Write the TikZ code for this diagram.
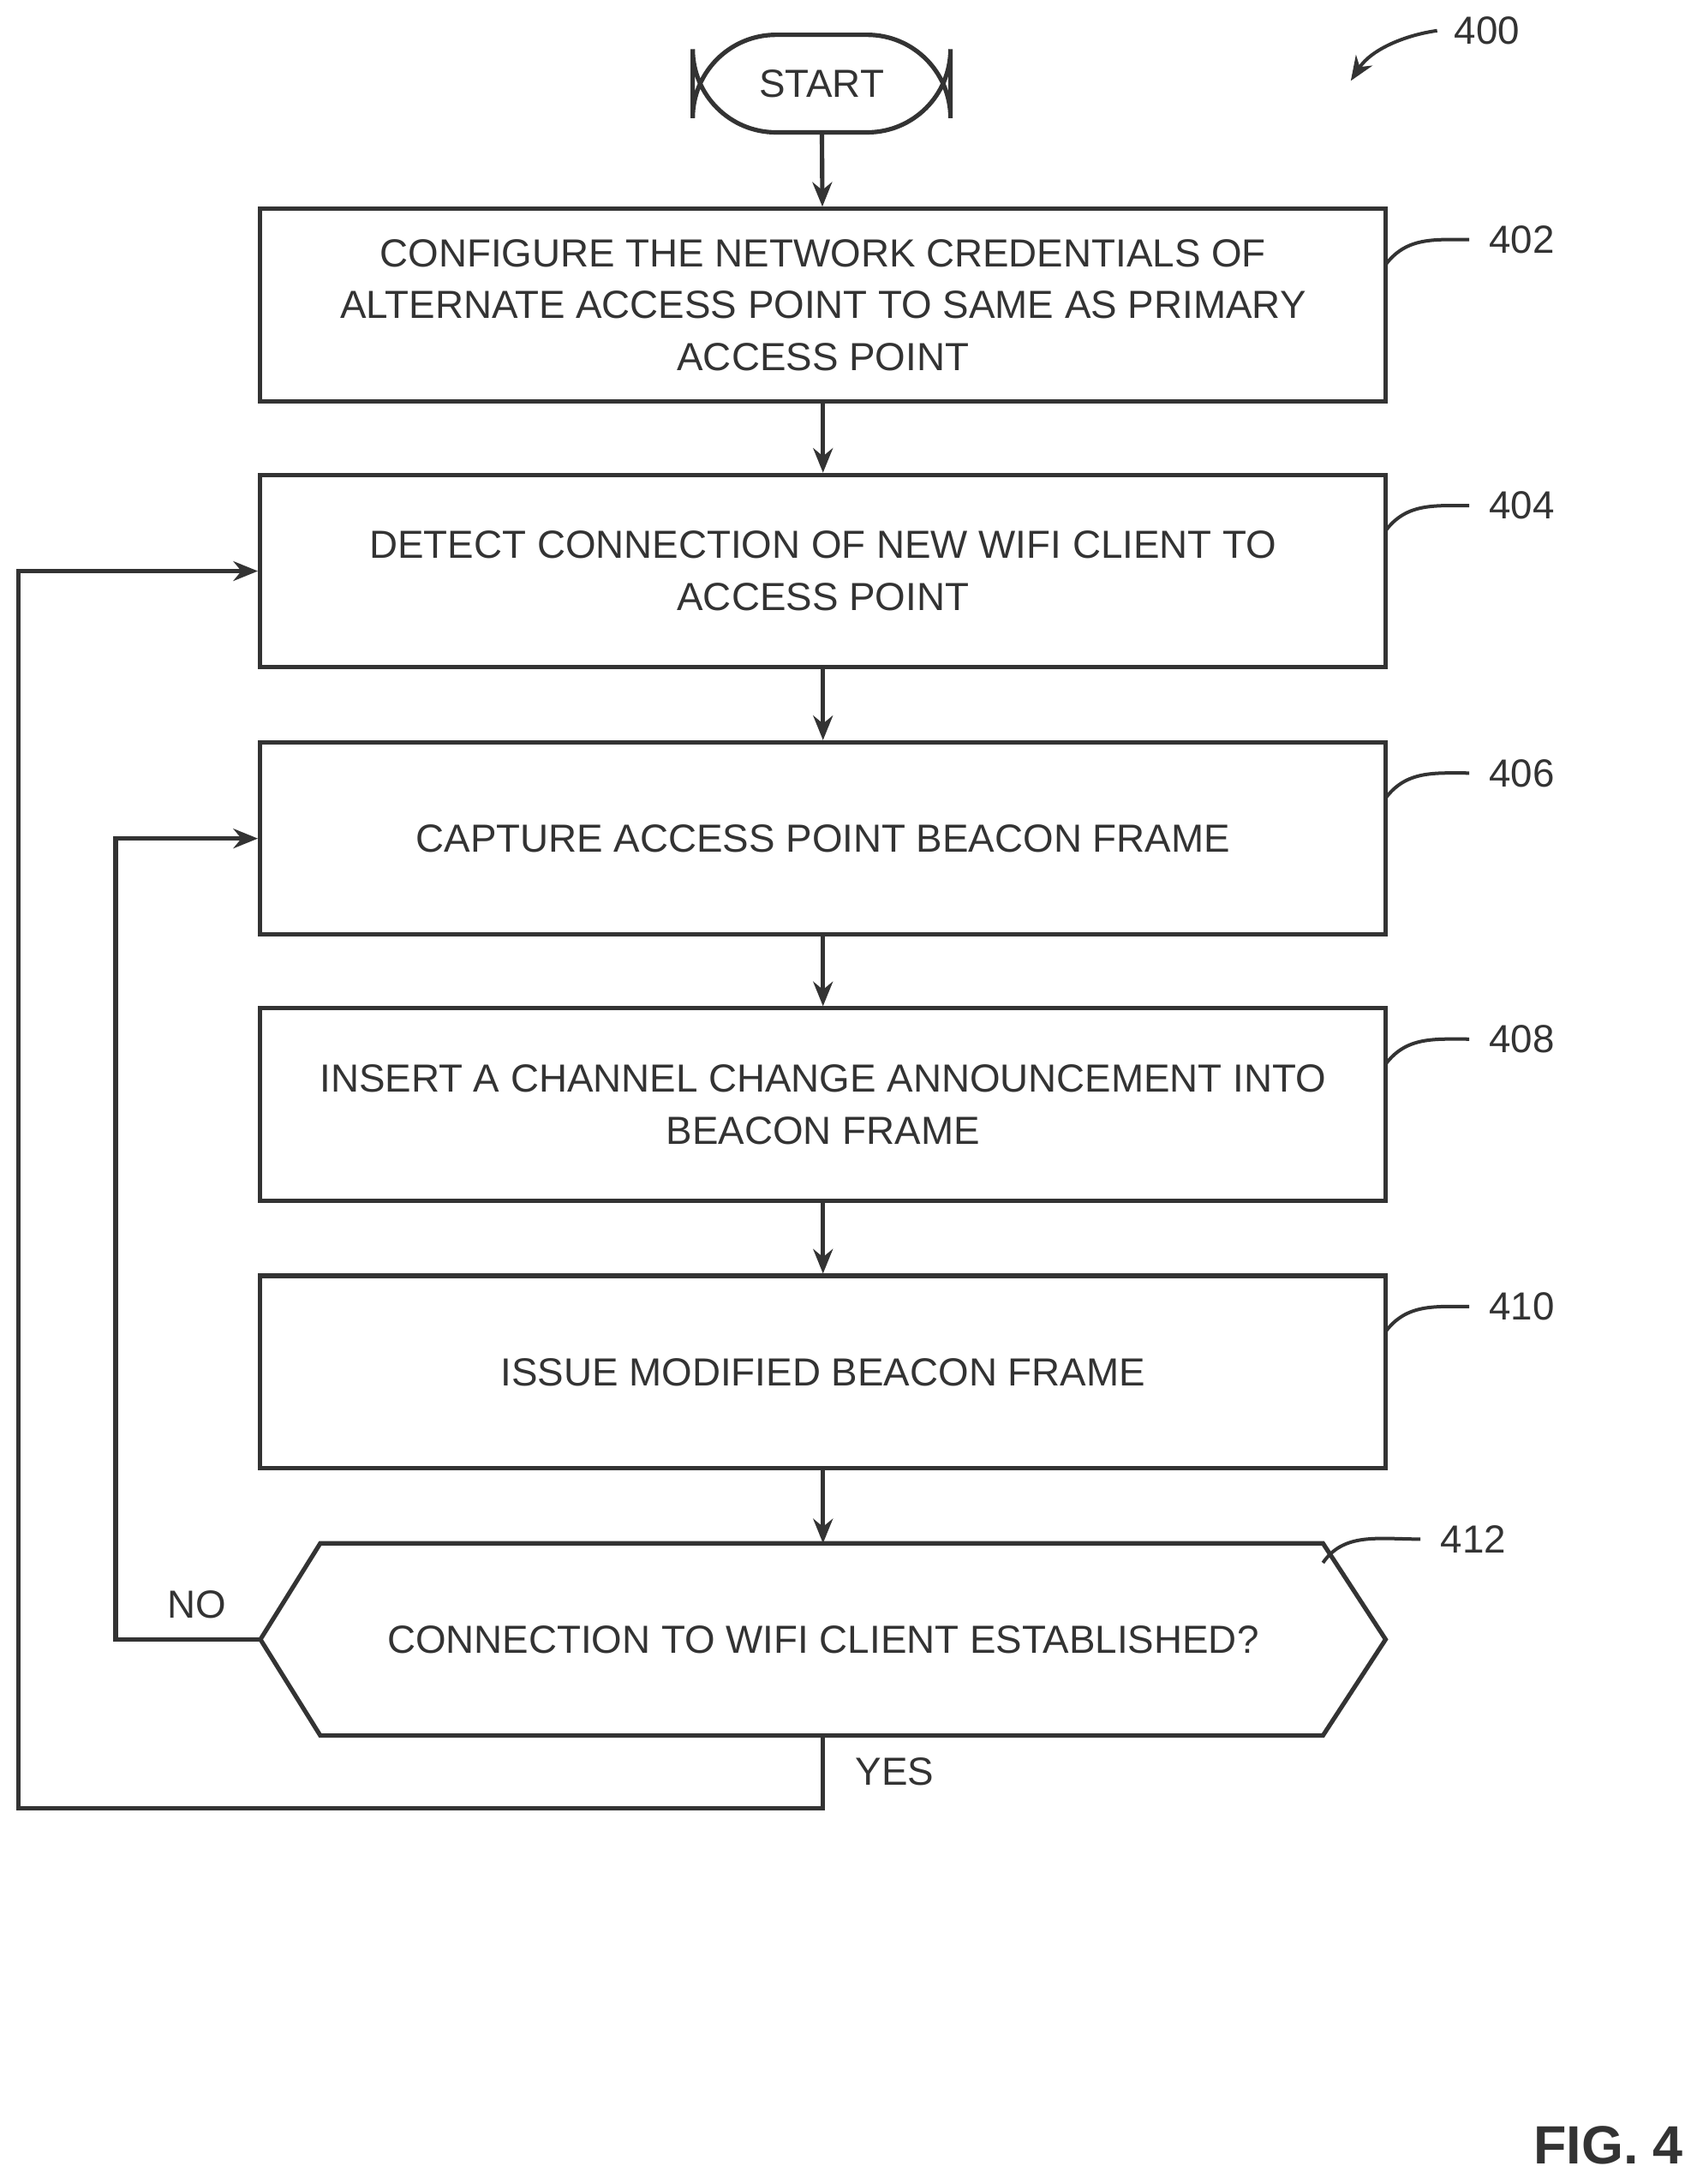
\documentclass[tikz,border=0pt]{standalone}
\usepackage{fontspec}
\setmainfont{Liberation Sans}
\usetikzlibrary{arrows.meta}
\begin{document}
\begin{tikzpicture}[x=0.01cm,y=-0.01cm,
  ln/.style={draw=black!80,line width=0.9pt},
  box/.style={ln,minimum width=808\pgflinewidth,align=center,inner sep=0pt},
  txt/.style={font=\fontsize{8}{10.6}\selectfont,text=black!80,align=center},
  arr/.style={ln,-{Stealth[length=5pt,width=4pt]}},
  lead/.style={ln,line width=0.7pt}]
\useasboundingbox (0,0) rectangle (1210,1568);
\node[ln,rounded corners=17pt,minimum width=1.85cm,minimum height=0.7cm,txt] (start) at (590,60) {START};
\foreach \n/\y/\t in {402/219/{CONFIGURE THE NETWORK CREDENTIALS OF\\ALTERNATE ACCESS POINT TO SAME AS PRIMARY\\ACCESS POINT},
  404/410/{DETECT CONNECTION OF NEW WIFI CLIENT TO\\ACCESS POINT},
  406/602/{CAPTURE ACCESS POINT BEACON FRAME},
  408/793/{INSERT A CHANNEL CHANGE ANNOUNCEMENT INTO\\BEACON FRAME},
  410/985/{ISSUE MODIFIED BEACON FRAME}}{
  \node[ln,minimum width=8.08cm,minimum height=1.38cm,inner sep=0pt,txt] (b\n) at (591,\y) {\t};
}
\coordinate (dL) at (187,1177); \coordinate (dR) at (995,1177);
\coordinate (dT) at (591,1108); \coordinate (dB) at (591,1246);
\draw[ln] (dL) -- (230,1108) -- (950,1108) -- (dR) -- (950,1246) -- (230,1246) -- cycle;
\node[txt] (d412) at (591,1177) {CONNECTION TO WIFI CLIENT ESTABLISHED?};
\draw[arr] (start) -- (b402);
\draw[arr] (b402) -- (b404);
\draw[arr] (b404) -- (b406);
\draw[arr] (b406) -- (b408);
\draw[arr] (b408) -- (b410);
\draw[arr] (b410) -- (dT);
\draw[arr] (dL) -- (83,1177) -- (83,602) -- (b406.west);
\draw[arr] (dB) -- (591,1298) -- (13,1298) -- (13,410) -- (b404.west);
\node[txt,anchor=east] (no) at (175,1152) {NO};
\node[txt,anchor=west] (yes) at (602,1272) {YES};
\foreach \n/\y in {402/150,404/341,406/533,408/724,410/916}{
  \draw[lead] (995,\y+40) .. controls (1010,\y+20) and (1030,\y+22) .. (1055,\y+22);
  \node[txt,anchor=west] (l\n) at (1057,\y+22) {\n};
}
\draw[lead] (950,1122) .. controls (965,1100) and (990,1105) .. (1020,1105);
\node[txt,anchor=west] (l412) at (1022,1105) {412};
\node[txt,anchor=west] (l400) at (1032,22) {400};
\draw[lead,-{Stealth[length=5pt,width=4pt]}] (l400.west) .. controls (1010,25) and (985,35) .. (970,58);
\node[font=\bfseries\fontsize{11}{12}\selectfont,text=black!80] (fig) at (1155,1540) {FIG. 4};
\end{tikzpicture}
\end{document}
